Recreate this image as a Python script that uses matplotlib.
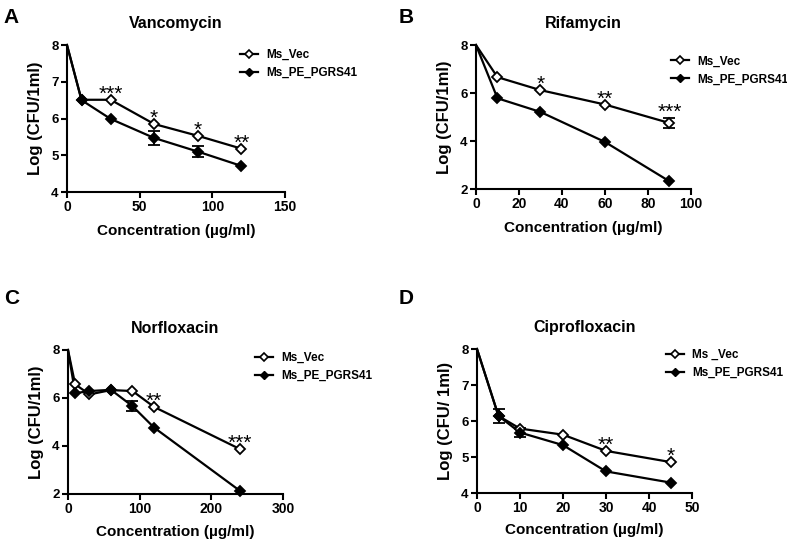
import matplotlib.pyplot as plt
from matplotlib.lines import Line2D

plt.rcParams['font.family'] = ['Liberation Sans', 'DejaVu Sans']
plt.rcParams['font.weight'] = 'bold'
plt.rcParams['axes.labelweight'] = 'bold'
plt.rcParams['axes.titleweight'] = 'bold'

# A - Vancomycin
vanc_x = [0, 10, 30, 60, 90, 120]
vanc_vec = [8.0, 6.51, 6.51, 5.85, 5.53, 5.18]
vanc_vec_err = [0, 0, 0, 0, 0, 0]
vanc_pe = [8.0, 6.5, 5.99, 5.47, 5.1, 4.71]
vanc_pe_err = [0, 0, 0, 0.18, 0.15, 0]
vanc_stars = {30: '***', 60: '*', 90: '*', 120: '**'}

# B - Rifamycin
rif_x = [0, 10, 30, 60, 90]
rif_vec = [8.0, 6.66, 6.12, 5.52, 4.75]
rif_vec_err = [0, 0, 0, 0, 0.22]
rif_pe = [8.0, 5.78, 5.21, 3.96, 2.32]
rif_pe_err = [0, 0, 0, 0, 0]
rif_stars = {30: '*', 60: '**', 90: '***'}

# C - Norfloxacin
nor_x = [0, 10, 30, 60, 90, 120, 240]
nor_vec = [8.0, 6.57, 6.15, 6.33, 6.29, 5.63, 3.87]
nor_vec_err = [0, 0, 0, 0, 0, 0, 0]
nor_pe = [8.0, 6.2, 6.29, 6.34, 5.66, 4.77, 2.13]
nor_pe_err = [0, 0, 0, 0, 0.2, 0, 0]
nor_stars = {120: '**', 240: '***'}

# D - Ciprofloxacin
cip_x = [0, 5, 10, 20, 30, 45]
cip_vec = [8.0, 6.14, 5.79, 5.62, 5.17, 4.86]
cip_vec_err = [0, 0, 0, 0, 0, 0]
cip_pe = [8.0, 6.14, 5.68, 5.33, 4.6, 4.29]
cip_pe_err = [0, 0.2, 0.12, 0, 0, 0]
cip_stars = {30: '**', 45: '*'}

panels = [
    ('A', 'Vancomycin', vanc_x, vanc_vec, vanc_vec_err, vanc_pe, vanc_pe_err, vanc_stars,
     (0, 150), [0, 50, 100, 150], (4, 8), [4, 5, 6, 7, 8], 'Log (CFU/1ml)', 'Ms_Vec',
     [0.0851, 0.6477, 0.277, 0.2697], (0.305, 0.910), (0.005, 0.985), 7),
    ('B', 'Rifamycin', rif_x, rif_vec, rif_vec_err, rif_pe, rif_pe_err, rif_stars,
     (0, 100), [0, 20, 40, 60, 80, 100], (2, 8), [2, 4, 6, 8], 'Log (CFU/1ml)', 'Ms_Vec',
     [0.6048, 0.6532, 0.2732, 0.2642], (0.8526, 0.898), (0.507, 0.985), 7),
    ('C', 'Norfloxacin', nor_x, nor_vec, nor_vec_err, nor_pe, nor_pe_err, nor_stars,
     (0, 300), [0, 100, 200, 300], (2, 8), [2, 4, 6, 8], 'Log (CFU/1ml)', 'Ms_Vec',
     [0.0864, 0.0936, 0.2732, 0.2642], (0.324, 0.354), (0.005, 0.47), 6),
    ('D', 'Ciprofloxacin', cip_x, cip_vec, cip_vec_err, cip_pe, cip_pe_err, cip_stars,
     (0, 50), [0, 10, 20, 30, 40, 50], (4, 8), [4, 5, 6, 7, 8], 'Log (CFU/ 1ml)', 'Ms _Vec',
     [0.6061, 0.0954, 0.2732, 0.2642], (0.846, 0.360), (0.507, 0.47), 5.5),
]

fig = plt.figure(figsize=(7.87, 5.45), dpi=100)


def draw_series(ax, x, y, err, fill):
    ax.plot(x, y, color='black', lw=1.6, clip_on=False, zorder=2)
    ex = [xi for xi, e in zip(x, err) if e > 0]
    ey = [yi for yi, e in zip(y, err) if e > 0]
    ee = [e for e in err if e > 0]
    if ex:
        ax.errorbar(ex, ey, yerr=ee, fmt='none', ecolor='black', elinewidth=1.3,
                    capsize=4.5, capthick=1.3, zorder=2)
    ax.plot(x[1:], y[1:], ls='none', marker='D', ms=5, mfc=fill, mec='black',
            mew=1.3, clip_on=False, zorder=3)


for (letter, title, x, vec, vec_err, pe, pe_err, stars, xlim, xticks, ylim, yticks,
     ylabel, vec_label, rect, leg_pos, letter_pos, xpad) in panels:
    ax = fig.add_axes(rect)
    draw_series(ax, x, vec, vec_err, 'white')
    draw_series(ax, x, pe, pe_err, 'black')
    for xi, s in stars.items():
        i = x.index(xi)
        ax.annotate(s, (xi, vec[i] + vec_err[i]), xytext=(0, 0), textcoords='offset points',
                    ha='center', va='baseline', fontsize=15, fontweight='normal')
    ax.set_xlim(xlim)
    ax.set_ylim(ylim)
    ax.set_xticks(xticks)
    ax.set_yticks(yticks)
    ax.spines['top'].set_visible(False)
    ax.spines['right'].set_visible(False)
    for sp in ['left', 'bottom']:
        ax.spines[sp].set_linewidth(1.5)
    ax.tick_params(width=1.5, length=4)
    ax.tick_params(axis='x', labelsize=10, pad=2)
    ax.tick_params(axis='y', labelsize=9.5, pad=2)
    ax.set_title(title, fontsize=11.5, pad=12)
    ax.set_xlabel('Concentration (µg/ml)', fontsize=11, labelpad=xpad)
    ax.set_ylabel(ylabel, fontsize=12, labelpad=6)
    handles = [
        Line2D([], [], color='black', lw=1.6, marker='D', ms=4, mfc='white', mec='black', mew=1.2),
        Line2D([], [], color='black', lw=1.6, marker='D', ms=4, mfc='black', mec='black'),
    ]
    ax.legend(handles, [vec_label, 'Ms_PE_PGRS41'], loc='upper left', bbox_to_anchor=leg_pos,
              bbox_transform=fig.transFigure, frameon=False, fontsize=8.5, handlelength=1.5,
              handletextpad=0.7, borderpad=0, borderaxespad=0, labelspacing=0.5)
    fig.text(letter_pos[0], letter_pos[1], letter, fontsize=15, fontweight='bold',
             ha='left', va='top')

fig.savefig('out.png', dpi=100)
